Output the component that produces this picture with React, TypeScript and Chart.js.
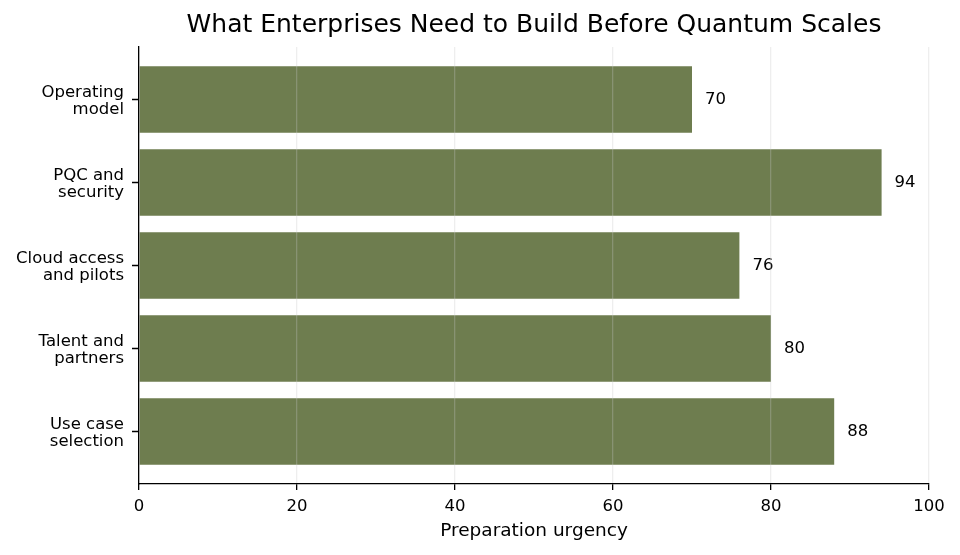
import React, { useEffect, useRef } from "react";
import { Chart, registerables } from "chart.js";

Chart.register(...registerables);

const categories = [
  "Operating\nmodel",
  "PQC and\nsecurity",
  "Cloud access\nand pilots",
  "Talent and\npartners",
  "Use case\nselection",
];
const urgency = [70, 94, 76, 80, 88];
const xTicks = [0, 20, 40, 60, 80, 100];

const FONT = "'DejaVu Sans', sans-serif";

const valueLabels = {
  id: "valueLabels",
  afterDatasetsDraw(chart: any) {
    const ctx = chart.ctx;
    const meta = chart.getDatasetMeta(0);
    ctx.save();
    ctx.font = `16.5px ${FONT}`;
    ctx.fillStyle = "#000";
    ctx.textAlign = "left";
    ctx.textBaseline = "middle";
    meta.data.forEach((bar: any, i: number) => {
      ctx.fillText(String(urgency[i]), bar.x + 13, bar.y);
    });
    ctx.restore();
  },
};

const categoryLabels = {
  id: "categoryLabels",
  afterDraw(chart: any) {
    const ctx = chart.ctx;
    const y = chart.scales.y;
    ctx.save();
    ctx.font = `16.5px ${FONT}`;
    ctx.fillStyle = "#000";
    ctx.textAlign = "right";
    ctx.textBaseline = "middle";
    categories.forEach((c, i) => {
      const py = y.getPixelForValue(i);
      const lines = c.split("\n");
      const n = lines.length;
      lines.forEach((ln, k) => {
        const off = (k - (n - 1) / 2) * 17 + 2;
        ctx.fillText(ln, 124, py + off);
      });
    });
    ctx.restore();
  },
};

export default function App() {
  const ref = useRef<HTMLCanvasElement>(null);
  useEffect(() => {
    if (!ref.current) return;
    const chart = new Chart(ref.current, {
      type: "bar",
      data: {
        datasets: [
          {
            data: urgency.map((v, i) => ({ x: v, y: i })),
            backgroundColor: "#6e7d4f",
            borderWidth: 0,
            categoryPercentage: 0.8,
            barPercentage: 1,
          },
        ],
      },
      options: {
        indexAxis: "y",
        animation: false,
        responsive: false,
        devicePixelRatio: 1,
        layout: { padding: { left: 0, right: 31, top: 0, bottom: 0 } },
        plugins: {
          legend: { display: false },
          tooltip: { enabled: false },
          title: {
            display: true,
            text: "What Enterprises Need to Build Before Quantum Scales",
            fullSize: false,
            color: "#000",
            font: { family: FONT, size: 25, weight: "normal" },
            padding: { top: 10, bottom: 7 },
          },
        },
        scales: {
          x: {
            type: "linear",
            min: 0,
            max: 100,
            afterBuildTicks: (s: any) => {
              s.ticks = xTicks.map((v) => ({ value: v }));
            },
            afterFit: (s: any) => {
              s.height = 71;
            },
            ticks: {
              color: "#000",
              font: { family: FONT, size: 16.5 },
              padding: 7,
            },
            grid: {
              z: 1,
              color: "rgba(200,200,200,0.3)",
              tickColor: "#000",
              tickLength: 6,
              tickWidth: 1.3,
              lineWidth: 1.3,
            },
            border: { display: true, color: "#000", width: 1.3, z: 2 },
            title: {
              display: true,
              text: "Preparation urgency",
              color: "#000",
              font: { family: FONT, size: 18.5 },
              padding: { top: 4, bottom: 13 },
            },
          },
          y: {
            type: "linear",
            reverse: true,
            offset: false,
            min: -0.633,
            max: 4.633,
            afterBuildTicks: (s: any) => {
              s.ticks = categories.map((_, i) => ({ value: i }));
            },
            afterFit: (s: any) => {
              s.width = 139;
            },
            ticks: {
              autoSkip: false,
              color: "rgba(0,0,0,0)",
              font: { family: FONT, size: 16.5 },
              padding: 9,
              callback: () => "",
            },
            grid: {
              offset: false,
              drawOnChartArea: false,
              color: "#000",
              tickColor: "#000",
              tickLength: 7,
              tickWidth: 1.5,
            },
            border: { display: true, color: "#000", width: 1.3, z: 2 },
          },
        },
      } as any,
      plugins: [valueLabels, categoryLabels],
    });
    return () => chart.destroy();
  }, []);
  return (
    <div style={{ position: "fixed", left: 0, top: 0, width: 960, height: 555, background: "#fff" }}>
      <canvas ref={ref} width={960} height={555} style={{ width: 960, height: 555 }} />
    </div>
  );
}
